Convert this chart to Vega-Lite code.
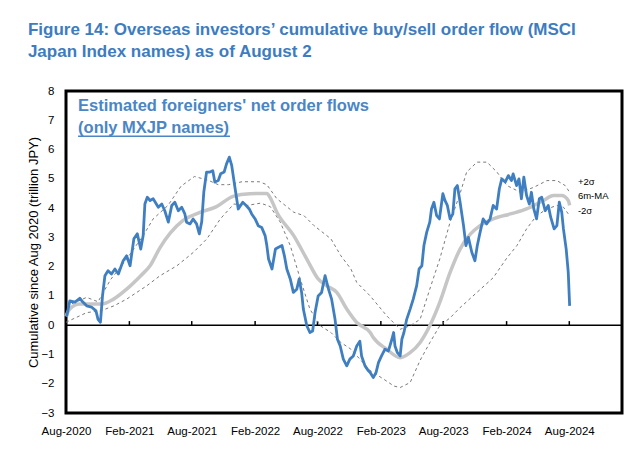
{
  "$schema": "https://vega.github.io/schema/vega-lite/v6.json",
  "width": 556,
  "height": 322,
  "autosize": "none",
  "padding": {"left": 66, "top": 91, "right": 18, "bottom": 38},
  "background": "white",
  "title": {
    "text": ["Figure 14: Overseas investors’ cumulative buy/sell order flow (MSCI", "Japan Index names) as of August 2"],
    "anchor": "start",
    "dx": 0,
    "font": "Liberation Sans",
    "fontSize": 17,
    "fontWeight": "bold",
    "color": "#3d7cc0",
    "lineHeight": 22,
    "offset": 24
  },
  "config": {
    "view": {"stroke": "#000", "strokeWidth": 3},
    "axis": {
      "labelFont": "Liberation Sans",
      "labelFontSize": 11.5,
      "labelColor": "#000",
      "titleFont": "Liberation Sans",
      "titleFontSize": 13,
      "titleFontWeight": "normal",
      "titleColor": "#000",
      "grid": false,
      "ticks": false,
      "domain": false,
      "labelOverlap": false
    },
    "axisY": {"labelOverlap": false, "labelSeparation": 0},
    "axisQuantitative": {"labelOverlap": false}
  },
  "datasets": {
    "flow": [
      {"date": "2020-08-03", "value": 0.30}, {"date": "2020-08-12", "value": 0.83}, {"date": "2020-08-27", "value": 0.79},
      {"date": "2020-09-10", "value": 0.92}, {"date": "2020-09-19", "value": 0.79}, {"date": "2020-09-30", "value": 0.66},
      {"date": "2020-10-14", "value": 0.62}, {"date": "2020-10-27", "value": 0.49}, {"date": "2020-11-02", "value": 0.20},
      {"date": "2020-11-09", "value": 0.10}, {"date": "2020-11-15", "value": 1.00}, {"date": "2020-11-22", "value": 1.69},
      {"date": "2020-12-01", "value": 1.86}, {"date": "2020-12-11", "value": 1.75}, {"date": "2020-12-21", "value": 1.92},
      {"date": "2020-12-31", "value": 1.75}, {"date": "2021-01-14", "value": 2.20}, {"date": "2021-01-24", "value": 2.37},
      {"date": "2021-02-03", "value": 2.03}, {"date": "2021-02-14", "value": 2.95}, {"date": "2021-02-24", "value": 3.12},
      {"date": "2021-03-06", "value": 2.60}, {"date": "2021-03-13", "value": 3.06}, {"date": "2021-03-18", "value": 4.14},
      {"date": "2021-03-25", "value": 4.37}, {"date": "2021-04-02", "value": 4.26}, {"date": "2021-04-11", "value": 4.32},
      {"date": "2021-04-26", "value": 4.03}, {"date": "2021-05-06", "value": 4.14}, {"date": "2021-05-15", "value": 3.90},
      {"date": "2021-05-25", "value": 3.52}, {"date": "2021-06-04", "value": 4.09}, {"date": "2021-06-13", "value": 4.20},
      {"date": "2021-06-23", "value": 3.91}, {"date": "2021-07-03", "value": 4.03}, {"date": "2021-07-12", "value": 3.80},
      {"date": "2021-07-17", "value": 3.52}, {"date": "2021-07-27", "value": 3.46}, {"date": "2021-08-05", "value": 3.63},
      {"date": "2021-08-15", "value": 3.46}, {"date": "2021-08-23", "value": 3.12}, {"date": "2021-08-30", "value": 3.53},
      {"date": "2021-09-05", "value": 4.54}, {"date": "2021-09-13", "value": 5.23}, {"date": "2021-09-23", "value": 5.23},
      {"date": "2021-10-01", "value": 5.28}, {"date": "2021-10-07", "value": 4.89}, {"date": "2021-10-17", "value": 4.94},
      {"date": "2021-10-24", "value": 5.17}, {"date": "2021-11-03", "value": 5.23}, {"date": "2021-11-10", "value": 5.51},
      {"date": "2021-11-18", "value": 5.74}, {"date": "2021-11-25", "value": 5.46}, {"date": "2021-12-05", "value": 4.66},
      {"date": "2021-12-14", "value": 3.97}, {"date": "2021-12-27", "value": 4.20}, {"date": "2022-01-06", "value": 4.09},
      {"date": "2022-01-15", "value": 3.97}, {"date": "2022-01-22", "value": 3.80}, {"date": "2022-02-01", "value": 3.63},
      {"date": "2022-02-10", "value": 3.40}, {"date": "2022-02-20", "value": 3.34}, {"date": "2022-03-02", "value": 3.06},
      {"date": "2022-03-07", "value": 2.72}, {"date": "2022-03-12", "value": 2.26}, {"date": "2022-03-22", "value": 1.92},
      {"date": "2022-04-01", "value": 2.60}, {"date": "2022-04-10", "value": 2.66}, {"date": "2022-04-20", "value": 2.72},
      {"date": "2022-04-27", "value": 2.37}, {"date": "2022-05-04", "value": 1.92}, {"date": "2022-05-14", "value": 1.58},
      {"date": "2022-05-23", "value": 1.12}, {"date": "2022-06-02", "value": 1.23}, {"date": "2022-06-09", "value": 1.58},
      {"date": "2022-06-16", "value": 1.12}, {"date": "2022-06-21", "value": 0.55}, {"date": "2022-07-01", "value": -0.02},
      {"date": "2022-07-10", "value": -0.25}, {"date": "2022-07-18", "value": -0.20}, {"date": "2022-07-25", "value": 0.43},
      {"date": "2022-08-03", "value": 1.00}, {"date": "2022-08-13", "value": 1.12}, {"date": "2022-08-23", "value": 1.69},
      {"date": "2022-09-02", "value": 1.23}, {"date": "2022-09-11", "value": 0.89}, {"date": "2022-09-21", "value": 0.20},
      {"date": "2022-09-28", "value": -0.48}, {"date": "2022-10-06", "value": -0.71}, {"date": "2022-10-15", "value": -1.16},
      {"date": "2022-10-25", "value": -1.39}, {"date": "2022-11-03", "value": -1.16}, {"date": "2022-11-13", "value": -1.05},
      {"date": "2022-11-23", "value": -0.71}, {"date": "2022-12-02", "value": -0.55}, {"date": "2022-12-07", "value": -1.05},
      {"date": "2022-12-17", "value": -1.39}, {"date": "2022-12-27", "value": -1.56}, {"date": "2023-01-01", "value": -1.62},
      {"date": "2023-01-10", "value": -1.79}, {"date": "2023-01-18", "value": -1.62}, {"date": "2023-01-25", "value": -1.28},
      {"date": "2023-02-03", "value": -1.05}, {"date": "2023-02-13", "value": -0.82}, {"date": "2023-02-23", "value": -0.88},
      {"date": "2023-03-05", "value": -0.48}, {"date": "2023-03-10", "value": -0.25}, {"date": "2023-03-14", "value": -0.71},
      {"date": "2023-03-21", "value": -0.94}, {"date": "2023-03-29", "value": -1.05}, {"date": "2023-04-03", "value": -0.48},
      {"date": "2023-04-09", "value": -0.25}, {"date": "2023-04-17", "value": 0.20}, {"date": "2023-04-27", "value": 0.55},
      {"date": "2023-05-06", "value": 0.89}, {"date": "2023-05-16", "value": 1.35}, {"date": "2023-05-23", "value": 1.92},
      {"date": "2023-05-31", "value": 2.03}, {"date": "2023-06-06", "value": 2.72}, {"date": "2023-06-14", "value": 3.17},
      {"date": "2023-06-23", "value": 3.52}, {"date": "2023-06-28", "value": 3.97}, {"date": "2023-07-05", "value": 4.20},
      {"date": "2023-07-13", "value": 3.74}, {"date": "2023-07-21", "value": 3.63}, {"date": "2023-07-31", "value": 4.49},
      {"date": "2023-08-06", "value": 4.26}, {"date": "2023-08-13", "value": 4.09}, {"date": "2023-08-21", "value": 3.63},
      {"date": "2023-08-29", "value": 3.80}, {"date": "2023-09-04", "value": 4.66}, {"date": "2023-09-11", "value": 4.77},
      {"date": "2023-09-19", "value": 4.20}, {"date": "2023-09-29", "value": 3.40}, {"date": "2023-10-06", "value": 2.72},
      {"date": "2023-10-13", "value": 3.00}, {"date": "2023-10-23", "value": 2.49}, {"date": "2023-11-01", "value": 2.20},
      {"date": "2023-11-08", "value": 2.72}, {"date": "2023-11-16", "value": 3.17}, {"date": "2023-11-25", "value": 3.63},
      {"date": "2023-12-05", "value": 3.46}, {"date": "2023-12-15", "value": 3.63}, {"date": "2023-12-24", "value": 4.09},
      {"date": "2024-01-03", "value": 3.97}, {"date": "2024-01-11", "value": 4.66}, {"date": "2024-01-18", "value": 5.00},
      {"date": "2024-01-28", "value": 4.89}, {"date": "2024-02-06", "value": 5.11}, {"date": "2024-02-15", "value": 4.94},
      {"date": "2024-02-20", "value": 5.17}, {"date": "2024-03-01", "value": 4.77}, {"date": "2024-03-08", "value": 5.00},
      {"date": "2024-03-15", "value": 4.32}, {"date": "2024-03-22", "value": 5.06}, {"date": "2024-03-30", "value": 4.43},
      {"date": "2024-04-07", "value": 4.14}, {"date": "2024-04-13", "value": 4.54}, {"date": "2024-04-20", "value": 3.97},
      {"date": "2024-04-28", "value": 3.63}, {"date": "2024-05-06", "value": 4.32}, {"date": "2024-05-13", "value": 4.37},
      {"date": "2024-05-23", "value": 3.91}, {"date": "2024-06-01", "value": 4.09}, {"date": "2024-06-08", "value": 3.69},
      {"date": "2024-06-18", "value": 3.29}, {"date": "2024-06-26", "value": 3.40}, {"date": "2024-07-03", "value": 4.20},
      {"date": "2024-07-10", "value": 3.86}, {"date": "2024-07-15", "value": 3.29}, {"date": "2024-07-23", "value": 2.60},
      {"date": "2024-07-29", "value": 1.80}, {"date": "2024-08-02", "value": 0.66}
    ],
    "ma": [
      {"date": "2020-08-01", "value": 0.30}, {"date": "2020-08-12", "value": 0.55}, {"date": "2020-09-10", "value": 0.72},
      {"date": "2020-10-19", "value": 0.72}, {"date": "2020-11-13", "value": 0.72}, {"date": "2020-12-17", "value": 0.89},
      {"date": "2021-01-24", "value": 1.23}, {"date": "2021-03-06", "value": 1.69}, {"date": "2021-04-02", "value": 2.03},
      {"date": "2021-05-01", "value": 2.65}, {"date": "2021-05-31", "value": 3.15}, {"date": "2021-07-06", "value": 3.57},
      {"date": "2021-08-25", "value": 3.85}, {"date": "2021-10-12", "value": 4.05}, {"date": "2021-11-29", "value": 4.40},
      {"date": "2022-01-17", "value": 4.49}, {"date": "2022-03-07", "value": 4.50}, {"date": "2022-03-17", "value": 4.35},
      {"date": "2022-04-05", "value": 3.86}, {"date": "2022-05-24", "value": 3.06}, {"date": "2022-07-01", "value": 2.26},
      {"date": "2022-08-03", "value": 1.58}, {"date": "2022-08-27", "value": 1.35}, {"date": "2022-09-26", "value": 1.12},
      {"date": "2022-10-25", "value": 0.55}, {"date": "2022-11-23", "value": 0.09}, {"date": "2023-01-01", "value": -0.25},
      {"date": "2023-01-10", "value": -0.42}, {"date": "2023-02-18", "value": -0.82}, {"date": "2023-03-29", "value": -1.11},
      {"date": "2023-04-27", "value": -0.94}, {"date": "2023-05-26", "value": -0.59}, {"date": "2023-06-23", "value": -0.02},
      {"date": "2023-07-22", "value": 0.78}, {"date": "2023-08-21", "value": 1.80}, {"date": "2023-09-19", "value": 2.60},
      {"date": "2023-10-18", "value": 3.10}, {"date": "2023-11-16", "value": 3.40}, {"date": "2023-12-24", "value": 3.63},
      {"date": "2024-02-12", "value": 3.80}, {"date": "2024-03-30", "value": 3.97}, {"date": "2024-05-18", "value": 4.26},
      {"date": "2024-06-16", "value": 4.43}, {"date": "2024-07-10", "value": 4.43}, {"date": "2024-07-29", "value": 4.26},
      {"date": "2024-08-02", "value": 4.09}
    ],
    "upper": [
      {"date": "2020-08-01", "value": 0.40}, {"date": "2020-08-12", "value": 0.70}, {"date": "2020-09-30", "value": 0.95},
      {"date": "2020-11-02", "value": 0.80}, {"date": "2020-12-08", "value": 1.55}, {"date": "2021-01-24", "value": 2.26},
      {"date": "2021-03-13", "value": 3.06}, {"date": "2021-04-11", "value": 3.63}, {"date": "2021-05-24", "value": 4.09},
      {"date": "2021-07-01", "value": 4.75}, {"date": "2021-08-09", "value": 5.08}, {"date": "2021-09-18", "value": 4.95},
      {"date": "2021-10-17", "value": 4.80}, {"date": "2021-11-16", "value": 4.80}, {"date": "2021-12-25", "value": 4.90},
      {"date": "2022-02-13", "value": 4.90}, {"date": "2022-03-07", "value": 4.80}, {"date": "2022-04-05", "value": 4.32},
      {"date": "2022-05-24", "value": 3.86}, {"date": "2022-06-23", "value": 3.74}, {"date": "2022-07-22", "value": 3.40},
      {"date": "2022-09-09", "value": 2.95}, {"date": "2022-10-08", "value": 2.37}, {"date": "2022-11-06", "value": 1.92},
      {"date": "2022-11-23", "value": 1.46}, {"date": "2023-01-01", "value": 1.00}, {"date": "2023-02-18", "value": 0.32},
      {"date": "2023-03-29", "value": -0.14}, {"date": "2023-04-27", "value": -0.02}, {"date": "2023-05-26", "value": 0.20},
      {"date": "2023-06-23", "value": 1.23}, {"date": "2023-07-22", "value": 2.26}, {"date": "2023-08-21", "value": 3.52},
      {"date": "2023-09-19", "value": 4.50}, {"date": "2023-10-08", "value": 5.23}, {"date": "2023-11-07", "value": 5.57},
      {"date": "2023-12-06", "value": 5.57}, {"date": "2024-01-04", "value": 5.23}, {"date": "2024-02-02", "value": 4.77},
      {"date": "2024-03-12", "value": 4.54}, {"date": "2024-04-20", "value": 4.71}, {"date": "2024-05-28", "value": 4.94},
      {"date": "2024-06-26", "value": 4.94}, {"date": "2024-07-20", "value": 4.77}, {"date": "2024-08-02", "value": 4.54}
    ],
    "lower": [
      {"date": "2020-08-01", "value": 0.10}, {"date": "2020-09-30", "value": 0.43}, {"date": "2020-11-10", "value": 0.49},
      {"date": "2020-12-18", "value": 0.66}, {"date": "2021-01-24", "value": 0.89}, {"date": "2021-03-24", "value": 1.35},
      {"date": "2021-05-01", "value": 1.69}, {"date": "2021-06-19", "value": 2.03}, {"date": "2021-08-06", "value": 2.49},
      {"date": "2021-09-14", "value": 2.95}, {"date": "2021-10-23", "value": 3.63}, {"date": "2021-12-01", "value": 4.14},
      {"date": "2022-01-09", "value": 4.09}, {"date": "2022-02-17", "value": 4.17}, {"date": "2022-03-17", "value": 4.05},
      {"date": "2022-04-15", "value": 3.52}, {"date": "2022-05-14", "value": 2.72}, {"date": "2022-06-12", "value": 1.58},
      {"date": "2022-07-10", "value": 0.55}, {"date": "2022-08-09", "value": -0.02}, {"date": "2022-09-09", "value": -0.25},
      {"date": "2022-10-08", "value": -0.59}, {"date": "2022-11-06", "value": -0.82}, {"date": "2022-12-05", "value": -1.20},
      {"date": "2023-01-01", "value": -1.55}, {"date": "2023-02-10", "value": -1.85}, {"date": "2023-03-11", "value": -2.08},
      {"date": "2023-03-29", "value": -2.13}, {"date": "2023-04-27", "value": -1.96}, {"date": "2023-05-26", "value": -1.20},
      {"date": "2023-06-23", "value": -0.60}, {"date": "2023-07-22", "value": -0.02}, {"date": "2023-08-21", "value": 0.25},
      {"date": "2023-09-19", "value": 0.60}, {"date": "2023-11-07", "value": 1.12}, {"date": "2023-12-24", "value": 1.62},
      {"date": "2024-02-02", "value": 2.30}, {"date": "2024-03-02", "value": 2.72}, {"date": "2024-03-30", "value": 3.29},
      {"date": "2024-04-28", "value": 3.74}, {"date": "2024-05-28", "value": 3.97}, {"date": "2024-06-26", "value": 4.09},
      {"date": "2024-07-15", "value": 4.03}, {"date": "2024-08-02", "value": 3.74}
    ],
    "ticks": [
      {"date": "2021-02-01"}, {"date": "2021-08-01"}, {"date": "2022-02-01"}, {"date": "2022-08-01"},
      {"date": "2023-02-01"}, {"date": "2023-08-01"}, {"date": "2024-02-01"}, {"date": "2024-08-01"}
    ],
    "one": [{"k": 1}]
  },
  "layer": [
    {
      "data": {"name": "flow"},
      "mark": {"type": "line", "opacity": 0},
      "encoding": {
        "x": {
          "field": "date", "type": "temporal",
          "scale": {"type": "utc", "domain": [{"year": 2020, "month": 8, "date": 1, "utc": true}, {"year": 2025, "month": 1, "date": 1, "utc": true}]},
          "axis": {
            "title": null,
            "format": "%b-%Y",
            "values": [
              {"year": 2020, "month": 8, "date": 1, "utc": true}, {"year": 2021, "month": 2, "date": 1, "utc": true},
              {"year": 2021, "month": 8, "date": 1, "utc": true}, {"year": 2022, "month": 2, "date": 1, "utc": true},
              {"year": 2022, "month": 8, "date": 1, "utc": true}, {"year": 2023, "month": 2, "date": 1, "utc": true},
              {"year": 2023, "month": 8, "date": 1, "utc": true}, {"year": 2024, "month": 2, "date": 1, "utc": true},
              {"year": 2024, "month": 8, "date": 1, "utc": true}
            ],
            "labelFlush": false,
            "labelOverlap": false,
            "labelPadding": 12
          }
        },
        "y": {
          "field": "value", "type": "quantitative",
          "scale": {"domain": [-3, 8], "nice": false, "zero": false},
          "axis": {
            "title": "Cumulative since Aug 2020 (trillion JPY)",
            "tickCount": 11,
            "labelOverlap": false,
            "labelBound": false,
            "labelPadding": 12,
            "titlePadding": 0
          }
        }
      }
    },
    {
      "data": {"name": "one"},
      "mark": {"type": "rule", "color": "#000", "strokeWidth": 1.5},
      "encoding": {"y": {"datum": 0, "type": "quantitative"}}
    },
    {
      "data": {"name": "ticks"},
      "mark": {"type": "rule", "color": "#000", "strokeWidth": 1.5},
      "encoding": {
        "x": {"field": "date", "type": "temporal"},
        "y": {"datum": 0, "type": "quantitative"},
        "y2": {"datum": 0.14}
      }
    },
    {
      "data": {"name": "upper"},
      "mark": {"type": "line", "color": "#7a7a7a", "strokeWidth": 1, "strokeDash": [3, 3]},
      "encoding": {"x": {"field": "date", "type": "temporal"}, "y": {"field": "value", "type": "quantitative"}}
    },
    {
      "data": {"name": "lower"},
      "mark": {"type": "line", "color": "#7a7a7a", "strokeWidth": 1, "strokeDash": [3, 3]},
      "encoding": {"x": {"field": "date", "type": "temporal"}, "y": {"field": "value", "type": "quantitative"}}
    },
    {
      "data": {"name": "ma"},
      "mark": {"type": "line", "color": "#c6c6c6", "strokeWidth": 3.5, "interpolate": "monotone"},
      "encoding": {"x": {"field": "date", "type": "temporal"}, "y": {"field": "value", "type": "quantitative"}}
    },
    {
      "data": {"name": "flow"},
      "mark": {"type": "line", "color": "#3f7fc1", "strokeWidth": 2.8, "strokeJoin": "round"},
      "encoding": {"x": {"field": "date", "type": "temporal"}, "y": {"field": "value", "type": "quantitative"}}
    },
    {
      "data": {"name": "one"},
      "mark": {"type": "text", "text": "Estimated foreigners' net order flows", "font": "Liberation Sans", "fontSize": 16.5, "fontWeight": "bold", "color": "#4a86c5", "align": "left", "baseline": "alphabetic"},
      "encoding": {
        "x": {"datum": {"year": 2020, "month": 9, "date": 5, "utc": true}, "type": "temporal"},
        "y": {"datum": 7.33, "type": "quantitative"}
      }
    },
    {
      "data": {"name": "one"},
      "mark": {"type": "text", "text": "(only MXJP names)", "font": "Liberation Sans", "fontSize": 16.5, "fontWeight": "bold", "color": "#4a86c5", "align": "left", "baseline": "alphabetic"},
      "encoding": {
        "x": {"datum": {"year": 2020, "month": 9, "date": 5, "utc": true}, "type": "temporal"},
        "y": {"datum": 6.58, "type": "quantitative"}
      }
    },
    {
      "data": {"name": "one"},
      "mark": {"type": "rule", "color": "#4a86c5", "strokeWidth": 1.5},
      "encoding": {
        "x": {"datum": {"year": 2020, "month": 9, "date": 5, "utc": true}, "type": "temporal"},
        "x2": {"datum": {"year": 2021, "month": 11, "date": 20, "utc": true}},
        "y": {"datum": 6.45, "type": "quantitative"}
      }
    },
    {
      "data": {"name": "one"},
      "mark": {"type": "text", "text": "+2σ", "font": "Liberation Sans", "fontSize": 9.5, "color": "#000", "align": "left", "baseline": "middle"},
      "encoding": {
        "x": {"datum": {"year": 2024, "month": 8, "date": 26, "utc": true}, "type": "temporal"},
        "y": {"datum": 4.9, "type": "quantitative"}
      }
    },
    {
      "data": {"name": "one"},
      "mark": {"type": "text", "text": "6m-MA", "font": "Liberation Sans", "fontSize": 9.5, "color": "#000", "align": "left", "baseline": "middle"},
      "encoding": {
        "x": {"datum": {"year": 2024, "month": 8, "date": 26, "utc": true}, "type": "temporal"},
        "y": {"datum": 4.41, "type": "quantitative"}
      }
    },
    {
      "data": {"name": "one"},
      "mark": {"type": "text", "text": "-2σ", "font": "Liberation Sans", "fontSize": 9.5, "color": "#000", "align": "left", "baseline": "middle"},
      "encoding": {
        "x": {"datum": {"year": 2024, "month": 8, "date": 26, "utc": true}, "type": "temporal"},
        "y": {"datum": 3.91, "type": "quantitative"}
      }
    }
  ]
}
